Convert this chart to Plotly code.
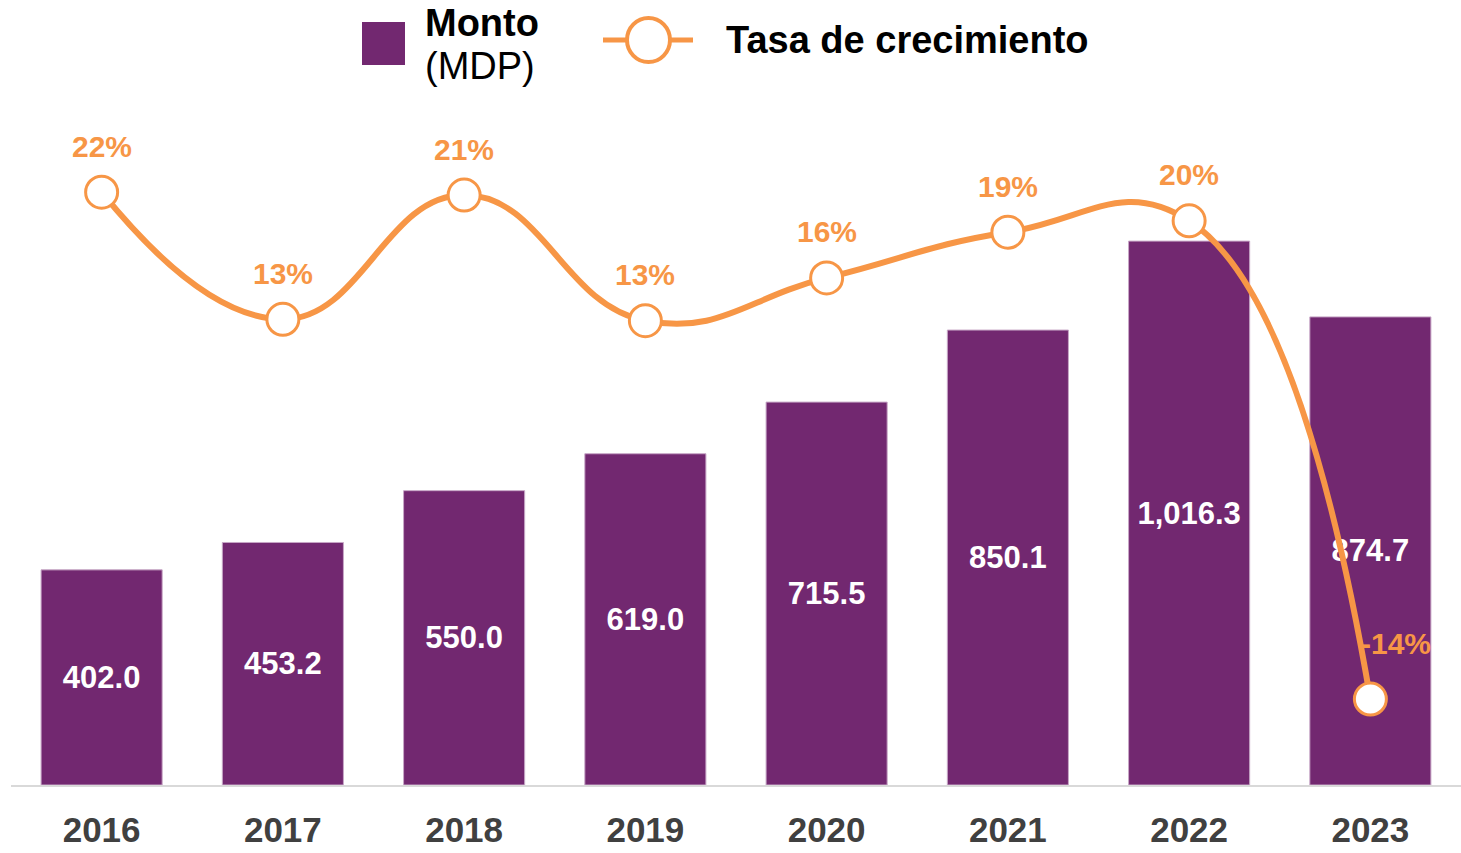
import plotly.graph_objects as go

# ── Datos ───────────────────────────────────────────────────────
anios = ["2016", "2017", "2018", "2019", "2020", "2021", "2022", "2023"]
monto_mdp = [402.0, 453.2, 550.0, 619.0, 715.5, 850.1, 1016.3, 874.7]
tasa_crecimiento = [0.216, 0.127, 0.214, 0.126, 0.156, 0.188, 0.196, -0.139]

# ── Constantes visuales ─────────────────────────────────────────
MORADO = "#722870"
NARANJA = "#F79646"
FUENTE = "Arial, Liberation Sans, sans-serif"

# plot area in pixels (used to place the hand-made legend)
L, R, T, B = 11, 0, 100, 68
W, H = 1461, 853
PW, PH = W - L - R, H - T - B


def px_x(x):
    return (x - L) / PW


def px_y(y):
    return (H - B - y) / PH


fig = go.Figure()

fig.add_trace(go.Bar(
    x=anios,
    y=monto_mdp,
    name="Monto (MDP)",
    marker=dict(color=MORADO, line=dict(color="#c7a6c6", width=1)),
    texttemplate="%{y:,.1f}",
    textposition="inside",
    insidetextanchor="middle",
    constraintext="none",
    textfont=dict(color="white", size=31, family=FUENTE, weight="bold"),
    showlegend=False,
))

fig.add_trace(go.Scatter(
    x=anios,
    y=tasa_crecimiento,
    yaxis="y2",
    name="Tasa de crecimiento",
    mode="lines+markers",
    line=dict(color=NARANJA, width=6, shape="spline", smoothing=1.3),
    marker=dict(size=32, color="white", line=dict(color=NARANJA, width=3)),
    showlegend=False,
))

# etiquetas de la tasa (x por índice: el eje es de categorías numéricas)
for i, t in enumerate(tasa_crecimiento):
    neg = t < 0
    fig.add_annotation(
        x=i, y=t, yref="y2", xref="x",
        text=f"<b>{t:.0%}</b>",
        showarrow=False,
        font=dict(color=NARANJA, size=30, family=FUENTE),
        xshift=26 if neg else 0,
        yshift=56 if neg else 46,
    )

# ── Leyenda manual ──────────────────────────────────────────────
fig.add_shape(type="rect", xref="paper", yref="paper",
              x0=px_x(362), x1=px_x(405), y0=px_y(65), y1=px_y(22),
              fillcolor=MORADO, line=dict(width=0))
fig.add_annotation(xref="paper", yref="paper", x=px_x(423), y=px_y(23),
                   xanchor="left", yanchor="middle", showarrow=False,
                   text="<b>Monto</b>", font=dict(size=38, color="black", family=FUENTE))
fig.add_annotation(xref="paper", yref="paper", x=px_x(423), y=px_y(66),
                   xanchor="left", yanchor="middle", showarrow=False,
                   text="(MDP)", font=dict(size=38, color="black", family=FUENTE))
fig.add_shape(type="line", xref="paper", yref="paper",
              x0=px_x(603), x1=px_x(693), y0=px_y(40), y1=px_y(40),
              line=dict(color=NARANJA, width=5))
fig.add_shape(type="circle", xref="paper", yref="paper",
              x0=px_x(627), x1=px_x(670), y0=px_y(62), y1=px_y(18),
              fillcolor="white", line=dict(color=NARANJA, width=4))
fig.add_annotation(xref="paper", yref="paper", x=px_x(724), y=px_y(40),
                   xanchor="left", yanchor="middle", showarrow=False,
                   text="<b>Tasa de crecimiento</b>",
                   font=dict(size=38, color="black", family=FUENTE))

fig.update_layout(
    width=W, height=H,
    margin=dict(l=L, r=R, t=T, b=B, autoexpand=False),
    paper_bgcolor="white",
    plot_bgcolor="white",
    bargap=0.332,
    font=dict(family=FUENTE),
    xaxis=dict(
        type="category",
        range=[-0.5, len(anios) - 0.5],
        showgrid=False,
        showline=True,
        linecolor="#d9d9d9",
        linewidth=2,
        ticks="",
        tickfont=dict(size=35, color="#404040", family=FUENTE, weight="bold"),
        ticklabelstandoff=13,
    ),
    yaxis=dict(range=[0, 1280], visible=False),
    yaxis2=dict(range=[-0.1992, 0.2806], overlaying="y", visible=False),
)

fig.write_html(
    "out.html",
    config={"displayModeBar": False},
    post_script="document.body.style.margin='0';",
)
